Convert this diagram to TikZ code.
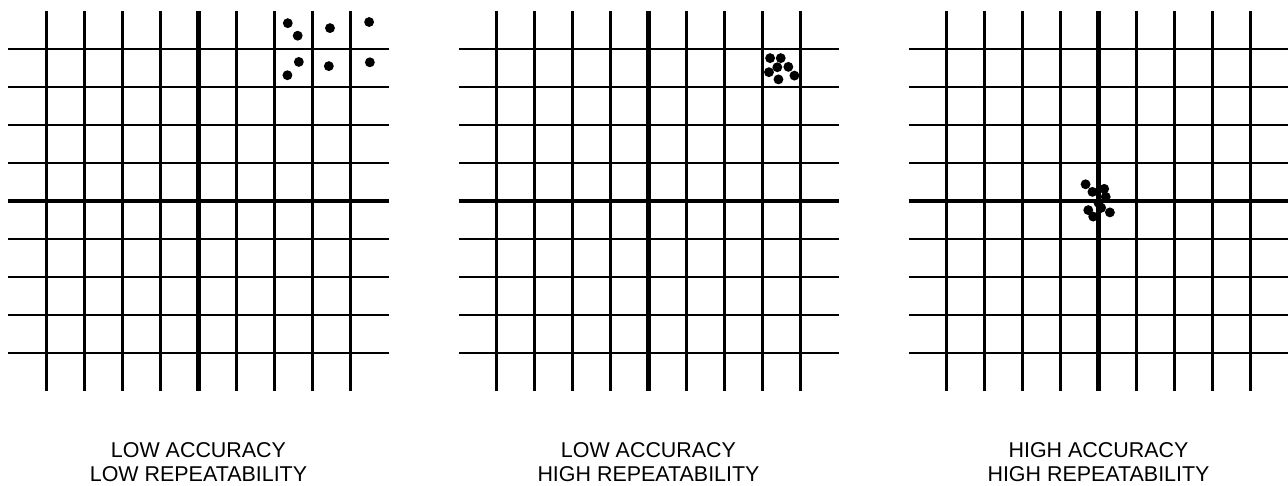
\documentclass[tikz,border=0pt]{standalone}
\usepackage{fontspec}
\setmainfont{Liberation Sans}
\usepackage{tikz}

\tikzset{
gridline/.style={line width=1.7pt},
axisline/.style={line width=2.6pt},
caption/.style={font=\fontsize{12.2}{13.4}\selectfont, align=center, inner sep=0pt, anchor=north}
}

\begin{document}
\begin{tikzpicture}
\useasboundingbox (-3.97,4.02) rectangle (21.79,-5.68);

%---G_{1}---

\begin{scope}[scale=0.76]
\foreach \i in {-4,-3,-2,-1,1,2,3,4}{
\draw[gridline](-5,\i)--(5,\i);
\draw[gridline](\i,-5)--(\i,5);
}
\draw[axisline](-5,0)--(5,0);
\draw[axisline](0,-5)--(0,5);

\fill(2.35,4.68)circle (0.13);
\fill(2.61,4.35)circle (0.13);
\fill(3.46,4.55)circle (0.13);
\fill(4.49,4.71)circle (0.13);
\fill(2.64,3.66)circle (0.13);
\fill(2.34,3.31)circle (0.13);
\fill(3.43,3.55)circle (0.13);
\fill(4.51,3.65)circle (0.13);

\node[caption] (lowlow) at (0,-6.35) {LOW ACCURACY\\LOW REPEATABILITY};
\end{scope}

%---G_{2}---

\begin{scope}[shift={(9,0)}, scale=0.76]
\foreach \i in {-4,-3,-2,-1,1,2,3,4}{
\draw[gridline](-5,\i)--(5,\i);
\draw[gridline](\i,-5)--(\i,5);
}
\draw[axisline](-5,0)--(5,0);
\draw[axisline](0,-5)--(0,5);

\fill(3.20,3.76)circle (0.13);
\fill(3.48,3.76)circle (0.13);
\fill(3.39,3.52)circle (0.13);
\fill(3.68,3.53)circle (0.13);
\fill(3.17,3.39)circle (0.13);
\fill(3.84,3.30)circle (0.13);
\fill(3.42,3.20)circle (0.13);

\node[caption] (lowhigh) at (0,-6.35) {LOW ACCURACY\\HIGH REPEATABILITY};
\end{scope}

%---G_{3}---

\begin{scope}[shift={(18,0)}, scale=0.76]
\foreach \i in {-4,-3,-2,-1,1,2,3,4}{
\draw[gridline](-5,\i)--(5,\i);
\draw[gridline](\i,-5)--(\i,5);
}
\draw[axisline](-5,0)--(5,0);
\draw[axisline](0,-5)--(0,5);

\fill(-0.34,0.44)circle (0.13);
\fill(-0.16,0.24)circle (0.13);
\fill(0.15,0.32)circle (0.13);
\fill(0.19,0.11)circle (0.13);
\fill(0.00,-0.05)circle (0.13);
\fill(-0.27,-0.24)circle (0.13);
\fill(-0.14,-0.41)circle (0.13);
\fill(0.30,-0.30)circle (0.13);
\fill(0.07,-0.18)circle (0.13);

\node[caption] (highhigh) at (0,-6.35) {HIGH ACCURACY\\HIGH REPEATABILITY};
\end{scope}

\end{tikzpicture}
\end{document}
